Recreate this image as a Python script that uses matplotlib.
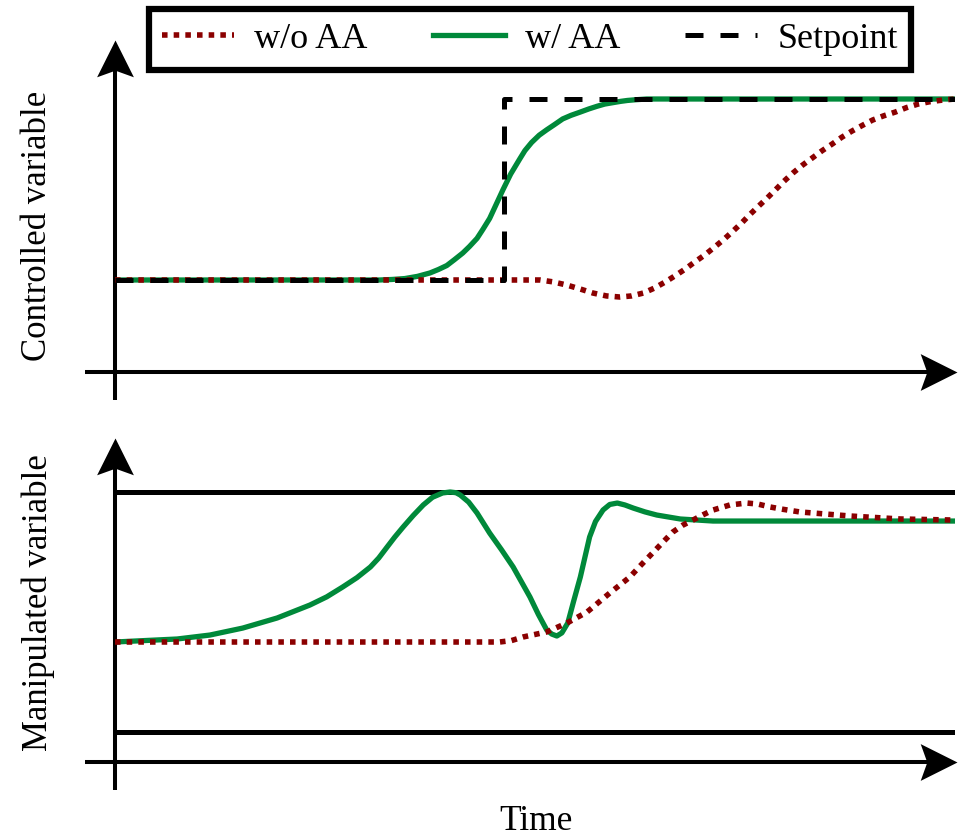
import matplotlib
matplotlib.use('Agg')
import matplotlib.pyplot as plt
from matplotlib.path import Path

plt.rcParams['font.family'] = ['Liberation Serif', 'DejaVu Serif']

# controlled variable (top panel), setpoint step 0 -> 1
time_cv_aa = [0, 3.15, 3.3, 3.45, 3.6, 3.75, 3.85, 3.95, 4.04, 4.14, 4.22, 4.31, 4.38,
              4.46, 4.54, 4.62, 4.71, 4.82, 4.88, 4.96, 5.05, 5.14, 5.23, 5.33, 5.43,
              5.54, 5.64, 5.74, 5.83, 5.93, 6.02, 6.1, 6.2, 6.33, 10]
cv_aa = [0, 0, 0.003, 0.008, 0.02, 0.039, 0.058, 0.08, 0.112, 0.149, 0.185, 0.23, 0.28,
         0.34, 0.42, 0.50, 0.585, 0.67, 0.715, 0.76, 0.80, 0.83, 0.858, 0.89, 0.91,
         0.928, 0.945, 0.96, 0.972, 0.98, 0.987, 0.992, 0.996, 1.0, 1.0]

time_cv_noaa = [0, 4.82, 5.06, 5.21, 5.38, 5.54, 5.69, 5.85, 6.01, 6.15, 6.29, 6.42, 6.55,
                6.67, 6.79, 6.9, 7.02, 7.13, 7.24, 7.35, 7.46, 7.55, 7.65, 7.76, 7.86,
                7.96, 8.07, 8.18, 8.30, 8.42, 8.54, 8.65, 8.77, 8.9, 9.02, 9.15, 9.29,
                9.42, 9.56, 9.7, 9.85, 10]
cv_noaa = [0, 0, 0, -0.01, -0.028, -0.05, -0.072, -0.088, -0.094, -0.088, -0.072, -0.045,
           -0.011, 0.024, 0.061, 0.099, 0.138, 0.179, 0.221, 0.267, 0.315, 0.358, 0.403,
           0.451, 0.497, 0.544, 0.591, 0.633, 0.674, 0.715, 0.752, 0.788, 0.822, 0.855,
           0.884, 0.907, 0.928, 0.952, 0.972, 0.985, 0.994, 1.0]

time_sp = [0, 4.63, 4.63, 10]
setpoint = [0, 0, 1, 1]

# manipulated variable (bottom panel), limits at 0 and 1
time_mv_aa = [0, 0.74, 1.13, 1.52, 1.93, 2.32, 2.52, 2.71, 2.88, 3.04, 3.14, 3.24, 3.33,
              3.43, 3.55, 3.67, 3.78, 3.90, 3.99, 4.06, 4.11, 4.21, 4.31, 4.46, 4.60,
              4.74, 4.94, 5.04, 5.14, 5.20, 5.26, 5.32, 5.39, 5.46, 5.54, 5.65, 5.72,
              5.81, 5.89, 5.98, 6.07, 6.17, 6.31, 6.45, 6.73, 7.12, 10]
mv_aa = [0.375, 0.3875, 0.404, 0.433, 0.475, 0.529, 0.563, 0.604, 0.643, 0.6875, 0.725,
         0.771, 0.812, 0.854, 0.902, 0.946, 0.978, 0.996, 1.0, 0.997, 0.9875, 0.958,
         0.9125, 0.829, 0.76, 0.6875, 0.5625, 0.49, 0.425, 0.408, 0.40, 0.413, 0.454,
         0.545, 0.646, 0.8125, 0.877, 0.925, 0.948, 0.954, 0.946, 0.933, 0.917, 0.904,
         0.8875, 0.879, 0.879]

time_mv_noaa = [0, 4.58, 4.72, 4.86, 5.14, 5.38, 5.62, 5.89, 6.13, 6.26, 6.40, 6.52, 6.64,
                6.76, 6.88, 7.0, 7.12, 7.32, 7.52, 7.65, 7.80, 7.95, 8.15, 8.75, 9.35, 10]
mv_noaa = [0.375, 0.375, 0.381, 0.396, 0.417, 0.454, 0.5, 0.579, 0.646, 0.695, 0.746,
           0.79, 0.833, 0.862, 0.883, 0.905, 0.925, 0.946, 0.954, 0.95, 0.9375, 0.928,
           0.917, 0.9, 0.8875, 0.883]

time_lim = [0, 10]
mv_upper = [1, 1]
mv_lower = [0, 0]

red = '#8b0000'
green = '#00893a'
W, H = 973, 838

fig = plt.figure(figsize=(W / 100, H / 100), dpi=100)
ax1 = fig.add_axes([115 / W, 1 - 372 / H, 840 / W, 332 / H])
ax2 = fig.add_axes([115 / W, 1 - 762 / H, 840 / W, 324 / H])

# stealth arrow heads, tip at origin
head_right = Path([(0, 0), (-1, 0.5), (-0.82, 0), (-1, -0.5), (0, 0)],
                  [Path.MOVETO, Path.LINETO, Path.LINETO, Path.LINETO, Path.CLOSEPOLY])
head_up = Path([(0, 0), (-0.5, -1), (0, -0.82), (0.5, -1), (0, 0)],
               [Path.MOVETO, Path.LINETO, Path.LINETO, Path.LINETO, Path.CLOSEPOLY])


def draw_axes_arrows(ax, h_px, y_bottom_px):
    tr = ax.transAxes
    kw = dict(transform=tr, color='k', lw=2.9, clip_on=False, solid_capstyle='butt')
    # horizontal
    ax.plot([-30 / 840, 1 + 2 / 840 - 25 / 840], [0, 0], **kw)
    ax.plot([1 + 2 / 840], [0], transform=tr, marker=head_right, ms=53, mew=0,
            color='k', clip_on=False)
    # vertical
    ax.plot([0, 0], [-y_bottom_px / h_px, 1 - 25 / h_px], **kw)
    ax.plot([0], [1], transform=tr, marker=head_up, ms=53, mew=0,
            color='k', clip_on=False)


ln_no, = ax1.plot(time_cv_noaa, cv_noaa, color=red, lw=4, ls=(0, (1, 1.1)),
                  zorder=3, label='w/o AA')
ln_aa, = ax1.plot(time_cv_aa, cv_aa, color=green, lw=3.8, zorder=2, label='w/ AA')
ln_sp, = ax1.plot(time_sp, setpoint, color='k', lw=3.6, ls=(0, (3.6, 3.4)),
                  zorder=4, label='Setpoint')
ax1.set_xlim(0, 10)
ax1.set_ylim(-0.5083, 1.326)
ax1.axis('off')
draw_axes_arrows(ax1, 332, 28)

ax2.plot(time_lim, mv_upper, color='k', lw=3.6, solid_capstyle='butt')
ax2.plot(time_lim, mv_lower, color='k', lw=3.6, solid_capstyle='butt')
ax2.plot(time_mv_aa, mv_aa, color=green, lw=3.8, zorder=2)
ax2.plot(time_mv_noaa, mv_noaa, color=red, lw=4, ls=(0, (1, 1.1)), zorder=3)
ax2.set_xlim(0, 10)
ax2.set_ylim(-0.125, 1.225)
ax2.axis('off')
draw_axes_arrows(ax2, 324, 28)

fig.text(38 / W, 1 - 226 / H, 'Controlled variable', rotation=90,
         ha='center', va='center', fontsize=25)
fig.text(38 / W, 1 - 603 / H, 'Manipulated variable', rotation=90,
         ha='center', va='center', fontsize=25)
fig.text(536 / W, 1 - 821 / H, 'Time', ha='center', va='center', fontsize=25.5)

leg = fig.legend([ln_no, ln_aa, ln_sp], ['w/o AA', 'w/ AA', 'Setpoint'],
                 loc='upper center', bbox_to_anchor=(530 / W, 1 - 9 / H), ncol=3,
                 fontsize=26, frameon=True, fancybox=False, edgecolor='k',
                 framealpha=1, handlelength=2.0, handletextpad=0.55,
                 columnspacing=1.8, borderpad=0.38, borderaxespad=0)
leg.get_frame().set_linewidth(4.5)

fig.savefig('out.png', dpi=100)
